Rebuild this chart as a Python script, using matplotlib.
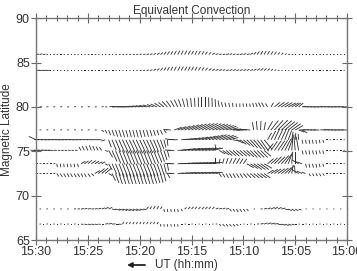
import numpy as np
import matplotlib
matplotlib.use('Agg')
from matplotlib import pyplot as plt

plt.rcParams['font.family'] = ['Liberation Sans', 'DejaVu Sans']

# station rows (magnetic latitude) and 20 s samples, minutes after 15:00
lats = [85.9, 84.1, 80.0, 77.4, 76.3, 75.1, 73.6, 72.5, 68.5, 66.8]
t_min = np.arange(90, -1, -1) / 3.0

tick_pos = [30, 25, 20, 15, 10, 5, 0]
tick_lab = ['15:30', '15:25', '15:20', '15:15', '15:10', '15:05', '15:00']

# vector direction (deg, screen) and length (px) per row
ang_a = [10, 15, 10, 5, 0, 10, 5, 0, 10, 5,
         0, 10, 5, 0, 10, 5, 0, 10, 5, 0,
         10, 5, 0, 10, 5, 10, 15, 10, 5, 10,
         15, 10, 15, 20, 25, 30, 40, 50, 55, 58,
         60, 60, 62, 60, 58, 60, 62, 60, 58, 55,
         45, 30, 20, 15, 10, 15, 20, 15, 10, 15,
         20, 15, 30, 45, 55, 58, 60, 60, 58, 55,
         50, 40, 25, 10, 5, 0, 5, 0, 5, 0,
         5, 0, 5, 0, 5, 0, 5, 0, 5, 0,
         0]
len_a = [3, 3, 2.5, 1.5, 1.2, 1.5, 1.2, 1.5, 1.2, 1.5,
         1.2, 1.5, 1.2, 1.5, 1.2, 1.5, 1.2, 1.5, 1.2, 1.5,
         1.2, 1.5, 1.2, 1.5, 1.5, 1.8, 1.5, 1.8, 2, 2,
         2.2, 2.2, 2.5, 2.5, 2.8, 3, 3.2, 3.5, 3.8, 4,
         4.2, 4.5, 4.5, 4.5, 4.5, 4.2, 4.2, 4, 3.8, 3.5,
         3.2, 3, 2.8, 2.5, 2.8, 3, 2.8, 2.5, 2.8, 3,
         3, 3, 3.2, 3.5, 3.8, 4, 4, 4, 3.8, 3.5,
         3, 2.5, 2, 1.8, 1.5, 1.2, 1.5, 1.2, 1.5, 1.2,
         1.5, 1.2, 1.5, 1.2, 1.5, 1.2, 1.5, 1.2, 1.5, 1.2,
         1.2]

ang_b = [5, 5, 5, 5, 0, 10, 0, 5, 0, 10,
         0, 5, 0, 10, 0, 5, 0, 10, 0, 5,
         0, 10, 0, 5, 0, 10, 0, 5, 0, 10,
         5, 10, 15, 20, 30, 40, 50, 55, 60, 62,
         62, 60, 60, 58, 60, 62, 60, 58, 55, 50,
         40, 30, 25, 20, 20, 15, 20, 20, 15, 20,
         20, 25, 20, 30, 35, 40, 40, 40, 35, 25,
         10, 5, 0, 5, 0, 10, 0, 5, 0, 10,
         0, 5, 0, 10, 0, 5, 0, 10, 0, 5,
         0]
len_b = [4, 4, 4, 3.5, 1.5, 1.2, 1.5, 1.2, 1.5, 1.2,
         1.5, 1.2, 1.5, 1.2, 1.5, 1.2, 1.5, 1.2, 1.5, 1.2,
         1.5, 1.2, 1.5, 1.2, 1.5, 1.2, 1.5, 1.2, 1.5, 1.5,
         1.8, 2, 2.2, 2.5, 3, 3.2, 3.5, 3.8, 4, 4.2,
         4.5, 4.5, 4.5, 4.5, 4.5, 4.2, 4.2, 4, 3.8, 3.5,
         3.2, 3, 3, 3, 2.8, 2.8, 3, 3, 2.8, 3,
         3, 3, 3, 3.2, 3.5, 3.5, 3.2, 3, 2.5, 2,
         1.5, 1.2, 1.5, 1.2, 1.5, 1.2, 1.5, 1.2, 1.5, 1.2,
         1.5, 1.2, 1.5, 1.2, 1.5, 1.2, 1.5, 1.2, 1.5, 1.2,
         1.2]

ang_c = [0, 5, 0, 10, 0, 5, 0, 10, 0, 5,
         0, 10, 0, 5, 0, 10, 0, 5, 0, 10,
         5, 0, 5, 175, 176, 177, 178, 178, 176, 174,
         172, 170, 168, 165, 160, 155, 148, 140, 133, 126,
         120, 115, 110, 105, 100, 96, 93, 91, 90, 90,
         91, 92, 95, 100, 105, 105, 100, 98, 95, 92,
         95, 98, 100, 105, 110, 115, 120, 120, 60, 40,
         35, 32, 30, 28, 30, 35, 40, 10, 180, 178,
         177, 178, 179, 178, 176, 177, 178, 179, 178, 177,
         178]
len_c = [3, 2.5, 2, 2, 1.8, 2, 1.8, 2, 1.8, 2,
         1.8, 2, 1.8, 2, 1.8, 2, 1.8, 2, 2, 2,
         2, 2, 2, 6, 7, 7, 7.5, 7.5, 7.5, 7.5,
         7.5, 7.5, 7.5, 7.5, 7, 7, 7, 7, 7.5, 7.5,
         7.5, 8, 8, 8.5, 8.5, 9, 9, 9.5, 9.5, 9.5,
         9.5, 9, 8, 6.5, 5, 4.5, 4, 4, 3.5, 3.5,
         3.5, 3.5, 3.5, 4, 4.5, 5, 5, 4, 5, 7,
         8, 8.5, 8.5, 8.5, 8, 7, 6, 4, 5, 6,
         6, 6, 6, 6, 6, 6, 6, 6, 6, 6,
         6]

ang_d = [0, 5, 0, 10, 0, 5, 0, 10, 0, 5,
         0, 10, 0, 5, 0, 10, 0, 5, 0, -40,
         -60, -68, -70, -72, -72, -73, -74, -74, -75, -75,
         -75, -75, -74, -73, -72, -70, -65, -50, 170, 175,
         20, 22, 24, 25, 26, 27, 28, 28, 28, 28,
         27, 26, 25, 24, 22, 20, 15, 8, 2, 178,
         178, 176, 175, 100, 95, 88, 80, 60, 52, 48,
         45, 42, 40, 38, 35, 30, -20, -30, 178, 176,
         177, 178, 179, 180, 178, 176, 177, 178, 179, 178,
         178]
len_d = [2, 1.8, 2, 1.8, 2, 1.8, 2, 1.8, 2, 1.8,
         2, 1.8, 2, 1.8, 2, 1.8, 2, 1.8, 2, 3,
         4, 5.5, 6.5, 7, 7.5, 7.5, 7.5, 7.5, 7.5, 7.5,
         7.5, 7, 7, 6.5, 6, 5.5, 5, 4, 4, 5,
         8, 9, 10, 11, 12, 12.5, 13, 13.5, 14, 14,
         14, 14, 13.5, 13, 12, 11, 9, 8, 7, 7,
         7, 7, 7, 8, 9, 9, 8, 10, 12, 13,
         14, 14, 13, 12, 11, 9, 6, 6, 6, 6,
         6, 6, 6, 6, 6, 6, 6, 6, 6, 6,
         6]

ang_e = [155, 178, 177, 178, 179, 178, 177, 178, 179, 178,
         177, 178, 179, 178, 177, 176, 177, 178, 177, 178,
         200, -70, -68, -67, -66, -65, -65, -65, -65, -65,
         -65, -65, -65, -66, -67, -68, -70, -75, -85, 170,
         175, 178, 5, 8, 10, 12, 14, 16, 18, 20,
         22, 24, 25, 24, 22, 20, 15, -10, -25, -35,
         -40, -45, -48, -50, -52, -55, -50, 60, 62, 65,
         65, 65, 68, 70, 80, 85, 95, -80, -80, -78,
         -80, -82, -80, -75, 0, 5, 0, 10, 0, 5,
         0]
len_e = [8, 5.5, 5.5, 5.5, 5.5, 5.5, 5.5, 5.5, 5.5, 5.5,
         5.5, 5, 5, 5, 5, 4.5, 4.5, 4, 4, 4,
         4, 8, 11, 13, 14, 15, 15, 15, 15, 15,
         15, 15, 14.5, 14, 13, 12, 10, 8, 6, 6,
         6, 7, 7, 8, 8, 9, 9, 10, 10, 11,
         11, 12, 12, 12, 12, 11, 9, 7, 8, 8,
         9, 10, 11, 12, 13, 14, 12, 8, 10, 12,
         12, 12, 11, 10, 8, 7, 6, 4, 4, 4,
         4, 4, 3.5, 3, 1.5, 1.2, 1.5, 1.2, 1.5, 1.2,
         1.2]

ang_f = [178, 177, 176, 175, 176, 177, 176, 175, 176, 178,
         175, 176, 175, 120, 118, 115, 112, 115, 120, 125,
         -20, -60, -66, -68, -68, -68, -68, -68, -68, -68,
         -68, -68, -68, -68, -68, -68, -70, -72, -75, 175,
         178, 5, 8, 10, 10, 10, 11, 11, 12, 12,
         12, 12, 95, -30, -35, -40, -40, -42, -40, -40,
         -40, -42, -45, -45, -45, -45, -40, 50, 55, 55,
         55, 58, 62, 70, 85, 95, 100, -75, -75, -78,
         -75, -78, -75, -78, 0, 5, 0, 10, 0, 5,
         0]
len_f = [5.5, 5.5, 5.5, 5, 5, 5, 3, 2.5, 2.5, 2.5,
         2.5, 2.5, 2.5, 4, 5, 5, 5.5, 5, 4.5, 4,
         3, 8, 12, 14, 15, 15, 15, 15, 15, 15,
         15, 15, 15, 14.5, 14, 13, 12, 10, 7, 6,
         6, 8, 10, 11, 12, 12, 12, 12, 12, 12,
         12, 11, 6, 7, 8, 8, 8, 8.5, 8.5, 9,
         9, 9.5, 10, 10, 10, 10, 9, 9, 11, 12,
         12, 12, 13, 14, 15, 16, 14, 4, 4, 4,
         4, 4, 3.5, 3.5, 1.5, 1.2, 1.5, 1.2, 1.5, 1.2,
         1.2]

ang_g = [0, 5, 0, 10, 0, 5, -80, -80, -82, -78,
         -80, -78, -75, 30, 35, 40, 35, 30, 25, 30,
         -30, -60, -66, -68, -68, -68, -68, -68, -68, -68,
         -68, -68, -68, -68, -69, -70, -72, -75, -80, 175,
         178, 3, 4, 5, 5, 6, 6, 7, 7, 8,
         8, 8, 90, 80, 75, 70, 65, 62, 60, 58,
         55, -30, -32, -35, -35, -35, -30, 40, 42, 45,
         45, 48, 55, 70, 85, 90, 150, 160, -75, -78,
         -75, -78, -80, -75, 0, 5, 0, 10, 0, 5,
         0]
len_g = [2, 1.8, 2, 1.8, 2, 2, 3.5, 3.5, 3.5, 3.5,
         3.5, 3.5, 3.5, 5, 5, 5.5, 5.5, 5, 4.5, 4,
         3, 7, 11, 13, 14, 14, 14, 14, 14, 14,
         14, 14, 14, 13.5, 13, 12, 11, 9, 7, 6,
         6, 8, 9, 10, 10, 10, 10, 10, 10, 10,
         10, 10, 6, 5, 5.5, 6, 6, 6.5, 6.5, 6,
         6, 8, 9, 10, 10, 10, 9, 8, 9, 10,
         10, 11, 11, 12, 12, 12, 8, 6, 4, 4,
         4, 4, 3.5, 3, 1.5, 1.2, 1.5, 1.2, 1.5, 1.2,
         1.2]

ang_h = [0, 5, 0, 10, 0, 5, -55, -58, -60, -60,
         -62, -60, -58, -60, -62, -55, -40, 30, 38, 40,
         40, -30, -65, -70, -72, -72, -72, -72, -72, -72,
         -72, -72, -72, -72, -72, -73, -74, -75, -60, 175,
         178, 5, 6, 7, 8, 8, 8, 9, 9, 10,
         10, 10, 10, -55, -58, -60, -62, -60, -58, -55,
         -50, -45, -40, -38, -38, -36, -35, 30, 32, 35,
         35, 38, 42, 55, 80, 95, 150, 155, 160, -60,
         -60, -58, -60, -55, 0, 5, 0, 10, 0, 5,
         0]
len_h = [2, 1.8, 2, 1.8, 2, 2, 3.5, 4, 4, 4,
         4, 4, 4, 4, 4, 4, 3.5, 6, 8, 8.5,
         8, 4, 8, 10, 11, 11, 11, 11, 11, 11,
         11, 11, 11, 11, 10.5, 10, 9.5, 8, 5, 5,
         5, 6, 7, 8, 8, 8, 8, 8, 8, 8,
         8, 8, 7, 4, 4.5, 5, 5, 5, 5, 5,
         5.5, 6, 6.5, 7, 7, 7.5, 7.5, 7, 8, 8,
         8.5, 9, 9, 9, 9, 8, 8, 6, 4, 3,
         3, 3, 3, 2.5, 1.5, 1.2, 1.5, 1.2, 1.5, 1.2,
         1.2]

ang_i = [0, 5, 0, 10, 0, 5, 0, 10, 0, 5,
         0, 10, 5, 10, 15, 10, 5, 10, 15, 20,
         30, 25, -10, -15, -15, -18, -20, -20, -18, -20,
         -15, -10, 50, 60, 62, 60, 55, -80, -82, -80,
         -78, -80, -60, 40, 45, 48, 50, 45, 40, 45,
         50, 45, 20, 15, 20, 10, -50, -55, -60, -58,
         -55, -50, 0, 5, 0, 10, 15, 20, 25, 30,
         25, 15, -10, -25, -30, -30, -20, 0, 5, 0,
         10, 0, 5, 0, 10, 0, 5, 0, 10, 0,
         5]
len_i = [1.2, 1.5, 1.2, 1.5, 1.2, 1.5, 1.2, 1.5, 1.2, 1.5,
         1.5, 2, 2.5, 3, 3, 3, 3, 3, 3, 3.5,
         4, 4, 4, 5, 5, 5, 5, 5, 5, 4.5,
         4, 3.5, 3, 3, 3.5, 3.5, 3, 3, 3, 3,
         3, 3, 2.5, 2.5, 3, 3, 3, 3, 3, 3,
         3, 3, 3, 3, 3, 3, 3, 3, 3.5, 3.5,
         3, 2.5, 1.5, 1.2, 1.5, 2, 3, 3.5, 4, 4,
         4, 4, 4, 4, 4, 3.5, 3, 1.5, 1.2, 1.5,
         1.2, 1.5, 1.2, 1.5, 1.2, 1.5, 1.2, 1.5, 1.2, 1.5,
         1.2]

ang_j = [0, 5, 0, 10, 0, 5, 0, 10, 0, 5,
         0, 10, 0, -5, -10, -10, -8, -10, -5, 0,
         10, 15, 5, 0, -5, 50, 55, 60, 58, 60,
         62, 60, 58, 60, 62, 60, -80, -82, -80, -78,
         -80, -82, 0, 5, 0, 10, 0, 5, 0, 10,
         0, 5, 10, -40, -45, -48, -50, -45, -40, 0,
         5, 0, 10, 0, 10, 15, 20, 20, 15, 10,
         -10, -15, -20, -20, -15, 0, 5, 0, 10, 0,
         5, 0, 10, 0, 5, 0, 10, 0, 5, 0,
         10]
len_j = [1.2, 1.5, 1.2, 1.5, 1.2, 1.5, 1.2, 1.5, 1.2, 1.5,
         1.2, 1.5, 1.5, 2.5, 3, 3, 3, 3, 2.5, 2,
         3, 3.5, 3.5, 3, 2.5, 2.5, 2.5, 2.5, 2.5, 2.5,
         2.5, 2.5, 2.5, 2.5, 2.5, 2.5, 2.5, 2.5, 2.5, 2.5,
         2.5, 2.5, 1.5, 1.2, 1.5, 1.2, 1.5, 1.2, 1.5, 1.2,
         1.5, 1.2, 1.5, 2.5, 3, 3, 3, 3, 2.5, 1.5,
         1.2, 1.5, 1.5, 1.5, 2, 3, 3.5, 4, 4, 4,
         4, 4, 4, 3.5, 3, 1.5, 1.2, 1.5, 1.2, 1.5,
         1.2, 1.5, 1.2, 1.5, 1.2, 1.5, 1.2, 1.5, 1.2, 1.5,
         1.2]

angs = [ang_a, ang_b, ang_c, ang_d, ang_e, ang_f, ang_g, ang_h, ang_i, ang_j]
lens = [len_a, len_b, len_c, len_d, len_e, len_f, len_g, len_h, len_i, len_j]

fig = plt.figure(figsize=(3.57, 2.71), dpi=100)
ax = fig.add_axes([0.101, 0.114, 0.871, 0.819])

for lat, ang, ln in zip(lats, angs, lens):
    ln = np.array(ln, dtype=float)
    q = ax.quiver(t_min, np.full(len(t_min), lat), ln, np.zeros(len(ln)),
                  angles=np.array(ang, dtype=float), scale_units='dots', scale=1,
                  units='dots', width=0.85, headwidth=0, headlength=0,
                  headaxislength=0, pivot='tail', color='#2e2e2e')
    q.set_clip_on(False)

ax.set_xlim(30, 0)
ax.set_ylim(65, 90)
ax.set_xticks(tick_pos)
ax.set_xticklabels(tick_lab)
ax.set_xticks(np.arange(0, 31, 1), minor=True)
ax.set_yticks([65, 70, 75, 80, 85, 90])
ax.tick_params(which='major', direction='inout', top=True, right=True, length=7,
               width=0.8, color='#666666', labelsize=9, labelcolor='#333333', pad=1)
ax.tick_params(which='minor', direction='inout', top=True, length=4, width=0.8,
               color='#666666')
for s in ax.spines.values():
    s.set_color('#777777')
    s.set_linewidth(1)

ax.set_title('Equivalent Convection', fontsize=8.5, color='#333333', pad=3)
ax.set_ylabel('Magnetic Latitude', fontsize=8.5, color='#333333', labelpad=2)

fig.text(155 / 357, 1 - 265 / 271, 'UT (hh:mm)', fontsize=8.5, color='#333333',
         va='center', ha='left')
ax.annotate('', xy=(127 / 357, 1 - 265 / 271), xytext=(145 / 357, 1 - 265 / 271),
            xycoords='figure fraction', textcoords='figure fraction',
            arrowprops=dict(arrowstyle='-|>', color='#222222', lw=1.3,
                            mutation_scale=7, shrinkA=0, shrinkB=0))

fig.savefig('out.png', dpi=100)
